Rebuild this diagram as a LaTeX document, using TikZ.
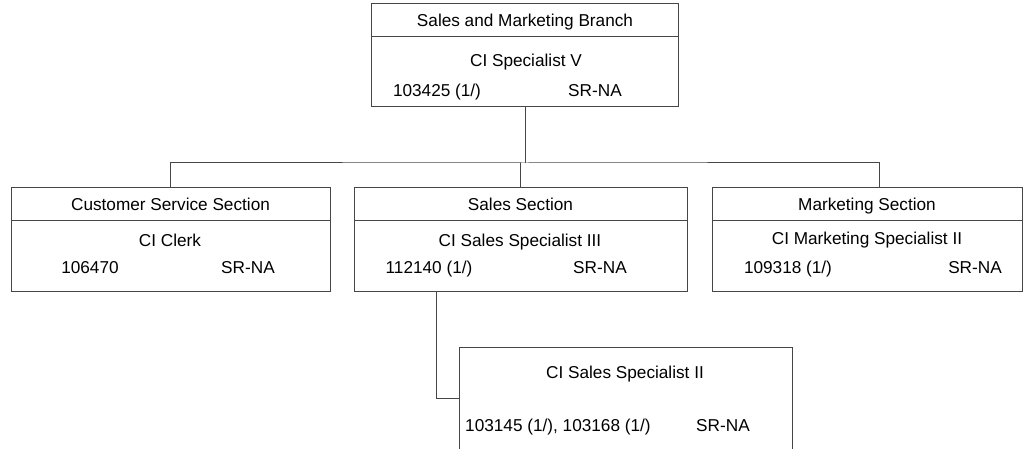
\documentclass[tikz,border=0pt]{standalone}
\usepackage{fontspec}
\setmainfont{Liberation Sans}
\usetikzlibrary{positioning}
\definecolor{linegray}{RGB}{70,70,70}
\newcommand{\chartfont}{\fontsize{17.2}{20.6}\selectfont}

\begin{document}
\begin{tikzpicture}[x=1pt, y=-1pt,
  unit/.style={rectangle, draw=linegray, line width=1pt, inner sep=0pt,
               minimum height=104pt},
  head/.style={rectangle, draw=linegray, line width=1pt, inner sep=0pt,
               minimum height=33pt, font=\chartfont, text height=12.4pt, text depth=0pt},
  lbl/.style={inner sep=0pt, font=\chartfont, text height=12.4pt, text depth=0pt},
  link/.style={draw=linegray, line width=1pt}
]
\useasboundingbox (0,0) rectangle (1029,449);

% branch
\node[unit, minimum width=307pt, minimum height=103pt] (branch) at (525,55.5) {};
\node[head, minimum width=307pt, anchor=north] (branchH) at (branch.north) {Sales and Marketing Branch};
\node[lbl] (branchJob) at (526,60) {CI Specialist V};
\node[lbl] (branchNo) at (437,90) {103425 (1/)};
\node[lbl] (branchSR) at (595,90) {SR-NA};

% sections
\node[unit, minimum width=319pt] (cust) at (170.5,240) {};
\node[head, minimum width=319pt, anchor=north] (custH) at (cust.north) {Customer Service Section};
\node[lbl] (custJob) at (170,240) {CI Clerk};
\node[lbl] (custNo) at (90,267) {106470};
\node[lbl] (custSR) at (248,267) {SR-NA};

\node[unit, minimum width=333pt] (sales) at (520.5,240) {};
\node[head, minimum width=333pt, anchor=north] (salesH) at (sales.north) {Sales Section};
\node[lbl] (salesJob) at (520,240) {CI Sales Specialist III};
\node[lbl] (salesNo) at (429,267) {112140 (1/)};
\node[lbl] (salesSR) at (600,267) {SR-NA};

\node[unit, minimum width=310pt] (mkt) at (867,240) {};
\node[head, minimum width=310pt, anchor=north] (mktH) at (mkt.north) {Marketing Section};
\node[lbl] (mktJob) at (867,238) {CI Marketing Specialist II};
\node[lbl] (mktNo) at (788,267) {109318 (1/)};
\node[lbl] (mktSR) at (975,267) {SR-NA};

% sales unit below
\node[inner sep=0pt, minimum width=332pt, minimum height=101pt] (sub) at (626,398.5) {};
\draw[link] (sub.south west) -- (sub.north west) -- (sub.north east) -- (sub.south east);
\node[lbl] (subJob) at (625,372) {CI Sales Specialist II};
\node[lbl, anchor=west] (subNo) at (465,425) {103145 (1/), 103168 (1/)};
\node[lbl] (subSR) at (723,425) {SR-NA};

\coordinate (bus) at (525,163);
\draw[link] (branch.south) -- (bus);
\draw[link] (cust.north) |- (bus) -| ([xshift=12pt]mkt.north);
\draw[link] (sales.north |- bus) -- (sales.north);
\draw[link] ([xshift=83pt]sales.south west) |- (sub.west);
\end{tikzpicture}
\end{document}
